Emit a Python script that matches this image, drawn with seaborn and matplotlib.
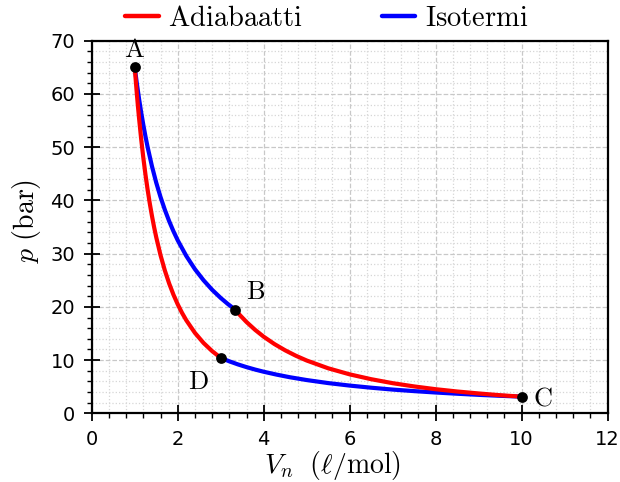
import matplotlib
matplotlib.use("Agg")
import matplotlib.pyplot as plt
from matplotlib.ticker import MultipleLocator
from matplotlib.lines import Line2D
import seaborn as sns
import pandas as pd

# Adiabat A -> D
adi1_V = [1.0, 1.025, 1.05, 1.075, 1.1, 1.15, 1.2, 1.25, 1.3, 1.35, 1.4, 1.45, 1.5,
          1.6, 1.7, 1.8, 1.9, 2.0, 2.1, 2.2, 2.4, 2.6, 2.8, 3.0]
adi1_p = [65.0, 62.38, 59.92, 57.62, 55.45, 51.49, 47.97, 44.81, 41.98, 39.42, 37.10,
          34.99, 33.07, 29.70, 26.84, 24.40, 22.30, 20.47, 18.87, 17.47, 15.11, 13.22,
          11.69, 10.42]

# Isotherm A -> B
iso1_V = [1.0, 1.05, 1.1, 1.15, 1.2, 1.25, 1.3, 1.4, 1.5, 1.6, 1.7, 1.8, 1.9, 2.0,
          2.2, 2.4, 2.6, 2.8, 3.0, 3.167, 3.333]
iso1_p = [65.0, 61.90, 59.09, 56.52, 54.17, 52.00, 50.00, 46.43, 43.33, 40.63, 38.24,
          36.11, 34.21, 32.50, 29.55, 27.08, 25.00, 23.21, 21.67, 20.53, 19.50]

# Adiabat B -> C
adi2_V = [3.333, 3.45, 3.6, 3.8, 4.0, 4.25, 4.5, 4.75, 5.0, 5.5, 6.0, 6.5, 7.0, 7.5,
          8.0, 8.5, 9.0, 9.5, 10.0]
adi2_p = [19.50, 18.42, 17.15, 15.68, 14.39, 13.01, 11.83, 10.81, 9.92, 8.46, 7.32,
          6.41, 5.66, 5.05, 4.53, 4.10, 3.73, 3.40, 3.13]

# Isotherm D -> C
iso2_V = [3.0, 3.2, 3.4, 3.6, 3.8, 4.0, 4.3, 4.6, 5.0, 5.5, 6.0, 6.5, 7.0, 7.5, 8.0,
          8.5, 9.0, 9.5, 10.0]
iso2_p = [10.42, 9.77, 9.19, 8.68, 8.22, 7.81, 7.27, 6.79, 6.25, 5.68, 5.21, 4.81,
          4.46, 4.17, 3.91, 3.68, 3.47, 3.29, 3.13]

# State points
state_names = ["A", "B", "C", "D"]
state_V = [1.0, 3.333, 10.0, 3.0]
state_p = [65.0, 19.50, 3.13, 10.42]
label_V = [1.0, 3.82, 10.5, 2.48]
label_p = [68.3, 22.7, 2.8, 5.9]

sns.set_theme(style="white")
plt.rcParams["mathtext.fontset"] = "cm"
plt.rcParams["font.family"] = ["DejaVu Sans"]
for key in ["text.color", "axes.labelcolor", "xtick.color", "ytick.color",
            "axes.edgecolor"]:
    plt.rcParams[key] = "black"

fig = plt.figure(figsize=(6.2, 4.82), dpi=100)
ax = fig.add_axes([0.148, 0.1425, 0.832, 0.773])

RED = "#ff0000"
BLUE = "#0000ff"
LW = 3.0

for V, p, c in [(iso1_V, iso1_p, BLUE), (iso2_V, iso2_p, BLUE),
                (adi1_V, adi1_p, RED), (adi2_V, adi2_p, RED)]:
    df = pd.DataFrame({"V": V, "p": p})
    sns.lineplot(data=df, x="V", y="p", color=c, lw=LW, sort=False,
                 ax=ax, legend=False, zorder=3)

pts = pd.DataFrame({"V": state_V, "p": state_p})
sns.scatterplot(data=pts, x="V", y="p", color="black", s=60,
                edgecolor="black", linewidth=0, ax=ax, zorder=5, legend=False)

for name, x, y in zip(state_names, label_V, label_p):
    ax.text(x, y, r"$\mathrm{%s}$" % name, fontsize=19, ha="center",
            va="center", color="black", zorder=6)

ax.set_xlim(0, 12)
ax.set_ylim(0, 70)
ax.xaxis.set_major_locator(MultipleLocator(2))
ax.xaxis.set_minor_locator(MultipleLocator(0.4))
ax.yaxis.set_major_locator(MultipleLocator(10))
ax.yaxis.set_minor_locator(MultipleLocator(2))

ax.grid(which="major", color="#c8c8c8", linestyle="--", linewidth=0.9)
ax.grid(which="minor", color="#d6d6d6", linestyle=":", linewidth=0.9)
ax.set_axisbelow(True)

for s in ax.spines.values():
    s.set_visible(True)
    s.set_color("black")
    s.set_linewidth(1.6)

ax.tick_params(which="major", direction="inout", length=11, width=1.3,
               pad=6.5, labelsize=14, colors="black", bottom=True, left=True,
               top=False, right=False)
ax.tick_params(which="minor", direction="out", length=3.5, width=1.0,
               colors="black", bottom=True, left=True, top=False, right=False)

ax.set_xlabel(r"$V_n\ \ (\ell/\mathrm{mol})$", fontsize=20)
ax.set_ylabel(r"$p\ (\mathrm{bar})$", fontsize=20)
ax.xaxis.set_label_coords(0.466, -0.095)
ax.yaxis.set_label_coords(-0.094, 0.517)

handles = [Line2D([], [], color=RED, lw=3.2),
           Line2D([], [], color=BLUE, lw=3.2)]
labels = [r"$\mathrm{Adiabaatti}$", r"$\mathrm{Isotermi}$"]
fig.legend(handles, labels, loc="upper center", bbox_to_anchor=(0.527, 1.045),
           ncol=2, frameon=False, fontsize=20.5, handlelength=1.19,
           columnspacing=2.75, handletextpad=0.35)

fig.savefig("out.png", dpi=100)
